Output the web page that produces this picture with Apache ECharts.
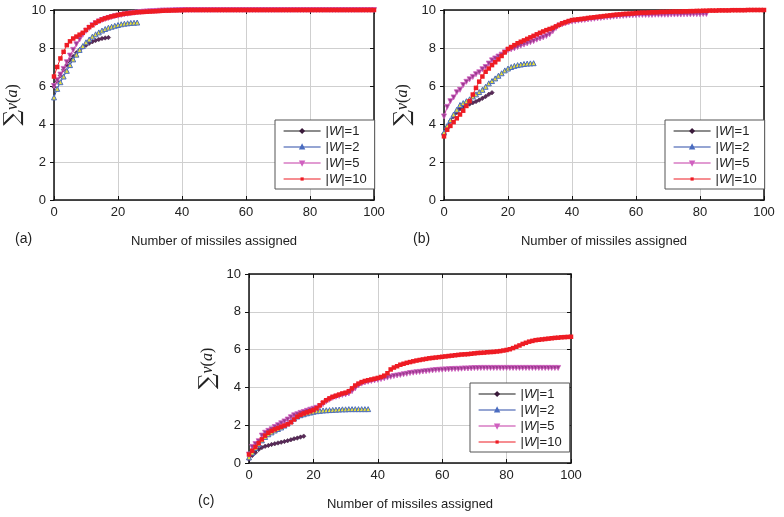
<!DOCTYPE html>
<html>
<head>
<meta charset="utf-8">
<script src="https://cdn.jsdelivr.net/npm/echarts@6/dist/echarts.min.js"></script>
<style>
  html, body { margin: 0; padding: 0; background: #fff; }
  #chart { width: 784px; height: 517px; }
</style>
</head>
<body>
<div id="chart"></div>
<script>
// Number of missiles assigned (x = 0, 1, 2, ...) vs. total value, per panel and |W|

const xTicks = [0, 20, 40, 60, 80, 100];
const yTicks = [0, 2, 4, 6, 8, 10];
const seriesNames = ['|W|=1', '|W|=2', '|W|=5', '|W|=10'];
const panelLabels = ['(a)', '(b)', '(c)'];
const xAxisTitle = 'Number of missiles assigned';

// Panel (a)
const aW1 = [5.95, 6.25, 6.55, 6.85, 7.1, 7.35, 7.55, 7.75, 7.9, 8.05, 8.15, 8.25, 8.33, 8.4, 8.45, 8.5, 8.53, 8.55];
const aW2 = [5.4, 5.85, 6.2, 6.5, 6.8, 7.1, 7.4, 7.65, 7.9, 8.1, 8.3, 8.45, 8.6, 8.72, 8.82, 8.92, 9.0, 9.07, 9.12, 9.17,
  9.21, 9.25, 9.28, 9.3, 9.32, 9.33, 9.34];
const aW5 = [6.0, 6.3, 6.6, 6.9, 7.25, 7.6, 7.9, 8.2, 8.45, 8.7, 8.9, 9.05, 9.2, 9.3, 9.4, 9.47, 9.53, 9.58, 9.63, 9.67,
  9.7, 9.74, 9.77, 9.8, 9.83, 9.85, 9.87, 9.89, 9.91, 9.92, 9.93, 9.94, 9.95, 9.96, 9.97, 9.97, 9.98, 9.98, 9.99, 9.99,
  10, 10, 10, 10, 10, 10, 10, 10, 10, 10, 10, 10, 10, 10, 10, 10, 10, 10, 10, 10,
  10, 10, 10, 10, 10, 10, 10, 10, 10, 10, 10, 10, 10, 10, 10, 10, 10, 10, 10, 10,
  10, 10, 10, 10, 10, 10, 10, 10, 10, 10, 10, 10, 10, 10, 10, 10, 10, 10, 10, 10, 10];
const aW10 = [6.5, 7.0, 7.45, 7.8, 8.15, 8.35, 8.5, 8.6, 8.7, 8.8, 8.95, 9.1, 9.2, 9.33, 9.42, 9.5, 9.56, 9.61, 9.66, 9.7,
  9.74, 9.77, 9.8, 9.82, 9.84, 9.86, 9.88, 9.89, 9.9, 9.91, 9.92, 9.93, 9.94, 9.95, 9.96, 9.97, 9.97, 9.98, 9.98, 9.99,
  9.99, 10, 10, 10, 10, 10, 10, 10, 10, 10, 10, 10, 10, 10, 10, 10, 10, 10, 10, 10,
  10, 10, 10, 10, 10, 10, 10, 10, 10, 10, 10, 10, 10, 10, 10, 10, 10, 10, 10, 10,
  10, 10, 10, 10, 10, 10, 10, 10, 10, 10, 10, 10, 10, 10, 10, 10, 10, 10, 10, 10, 10];

// Panel (b)
const bW1 = [3.5, 3.85, 4.15, 4.4, 4.6, 4.8, 4.9, 5.0, 5.05, 5.12, 5.18, 5.26, 5.35, 5.45, 5.56, 5.65];
const bW2 = [3.55, 3.9, 4.2, 4.5, 4.75, 5.0, 5.1, 5.2, 5.3, 5.45, 5.56, 5.68, 5.8, 5.96, 6.14, 6.26, 6.4, 6.54, 6.67, 6.82,
  6.92, 7.0, 7.06, 7.1, 7.13, 7.16, 7.18, 7.19, 7.2];
const bW5 = [4.4, 4.9, 5.2, 5.4, 5.67, 5.8, 6.05, 6.22, 6.35, 6.48, 6.62, 6.72, 6.88, 7.0, 7.18, 7.35, 7.45, 7.55, 7.65, 7.77,
  7.88, 7.93, 7.98, 8.05, 8.12, 8.18, 8.24, 8.3, 8.36, 8.44, 8.5, 8.56, 8.63, 8.72, 8.88, 9.05, 9.18, 9.25, 9.3, 9.35,
  9.39, 9.41, 9.44, 9.46, 9.48, 9.5, 9.52, 9.54, 9.56, 9.58, 9.6, 9.62, 9.63, 9.65, 9.66, 9.68, 9.69, 9.7, 9.71, 9.72,
  9.73, 9.74, 9.74, 9.74, 9.74, 9.74, 9.75, 9.75, 9.75, 9.75, 9.75, 9.76, 9.76, 9.76, 9.76, 9.77, 9.77, 9.77, 9.78, 9.78,
  9.78, 9.79, 9.79];
const bW10 = [3.35, 3.7, 3.9, 4.1, 4.3, 4.5, 4.7, 4.95, 5.2, 5.55, 5.9, 6.23, 6.5, 6.75, 6.92, 7.1, 7.25, 7.4, 7.58, 7.77,
  7.95, 8.05, 8.15, 8.25, 8.33, 8.4, 8.48, 8.56, 8.64, 8.72, 8.8, 8.87, 8.94, 9.0, 9.06, 9.14, 9.22, 9.3, 9.36, 9.42,
  9.47, 9.49, 9.51, 9.53, 9.55, 9.58, 9.6, 9.62, 9.64, 9.66, 9.68, 9.7, 9.72, 9.74, 9.76, 9.77, 9.79, 9.8, 9.81, 9.82,
  9.84, 9.85, 9.86, 9.86, 9.87, 9.88, 9.88, 9.89, 9.9, 9.9, 9.91, 9.91, 9.92, 9.92, 9.92, 9.93, 9.93, 9.94, 9.94, 9.95,
  9.95, 9.96, 9.96, 9.97, 9.97, 9.97, 9.98, 9.98, 9.98, 9.98, 9.99, 9.99, 9.99, 9.99, 9.99, 10, 10, 10, 10, 10, 10];

// Panel (c)
const cW1 = [0.2, 0.4, 0.55, 0.72, 0.82, 0.88, 0.93, 0.98, 1.02, 1.06, 1.1, 1.14, 1.18, 1.23, 1.28, 1.32, 1.37, 1.42];
const cW2 = [0.3, 0.55, 0.8, 1.0, 1.2, 1.38, 1.52, 1.62, 1.72, 1.8, 1.88, 1.98, 2.1, 2.22, 2.36, 2.46, 2.53, 2.58, 2.63, 2.67,
  2.71, 2.74, 2.76, 2.78, 2.79, 2.8, 2.81, 2.82, 2.83, 2.84, 2.84, 2.85, 2.85, 2.85, 2.85, 2.85, 2.85, 2.85];
const cW5 = [0.45, 0.85, 1.0, 1.15, 1.45, 1.6, 1.7, 1.78, 1.9, 2.0, 2.1, 2.2, 2.3, 2.42, 2.52, 2.58, 2.65, 2.7, 2.76, 2.82,
  2.87, 2.92, 3.0, 3.12, 3.25, 3.35, 3.45, 3.5, 3.55, 3.6, 3.63, 3.68, 3.8, 3.95, 4.1, 4.2, 4.26, 4.3, 4.34, 4.37,
  4.4, 4.44, 4.48, 4.52, 4.56, 4.6, 4.63, 4.66, 4.69, 4.72, 4.76, 4.78, 4.8, 4.82, 4.84, 4.86, 4.88, 4.9, 4.92, 4.93,
  4.94, 4.95, 4.96, 4.97, 4.98, 4.98, 4.99, 5.0, 5.0, 5.01, 5.02, 5.02, 5.03, 5.03, 5.03, 5.03, 5.03, 5.03, 5.03, 5.03,
  5.03, 5.03, 5.03, 5.03, 5.03, 5.03, 5.03, 5.03, 5.03, 5.03, 5.03, 5.03, 5.03, 5.03, 5.03, 5.03, 5.03];
const cW10 = [0.45, 0.65, 0.85, 1.05, 1.25, 1.45, 1.6, 1.7, 1.78, 1.85, 1.92, 1.98, 2.05, 2.15, 2.3, 2.45, 2.55, 2.62, 2.68, 2.74,
  2.8, 2.9, 3.05, 3.2, 3.32, 3.42, 3.5, 3.56, 3.62, 3.68, 3.72, 3.8, 3.95, 4.1, 4.2, 4.28, 4.34, 4.38, 4.42, 4.46,
  4.5, 4.55, 4.62, 4.75, 4.95, 5.05, 5.12, 5.2, 5.25, 5.3, 5.34, 5.38, 5.42, 5.45, 5.48, 5.51, 5.54, 5.56, 5.58, 5.6,
  5.62, 5.64, 5.66, 5.68, 5.7, 5.72, 5.74, 5.75, 5.76, 5.78, 5.8, 5.82, 5.83, 5.84, 5.86, 5.87, 5.88, 5.9, 5.92, 5.95,
  5.98, 6.02, 6.08, 6.15, 6.22, 6.3, 6.36, 6.42, 6.46, 6.5, 6.52, 6.54, 6.56, 6.58, 6.6, 6.62, 6.63, 6.65, 6.66, 6.67, 6.68];

const panelData = [
  [aW1, aW2, aW5, aW10],
  [bW1, bW2, bW5, bW10],
  [cW1, cW2, cW5, cW10]
];

// ---- layout & styling ----
const FONT = '"Liberation Sans", Arial, sans-serif';
const panels = [
  { left: 54,  top: 10,  width: 320, height: 190, legend: { left: 275, top: 120 }, tag: { x: 22,  y: 241 } },
  { left: 444, top: 10,  width: 320, height: 190, legend: { left: 665, top: 120 }, tag: { x: 420, y: 241 } },
  { left: 249, top: 274, width: 322, height: 189, legend: { left: 470, top: 383 }, tag: { x: 205, y: 503 } }
];
const styles = [
  { line: '#1a1a1a', symbol: 'diamond',  size: 4.5, rotate: 0,   fill: '#5a2a5a', border: '#3a1a3a', bw: 0.5 },
  { line: '#2c4ca8', symbol: 'triangle', size: 5,   rotate: 0,   fill: '#e6de3a', border: '#4a6cc0', bw: 1 },
  { line: '#c43aa6', symbol: 'triangle', size: 5,   rotate: 180, fill: '#9a3a8e', border: '#d060c0', bw: 0.8 },
  { line: '#ee1c24', symbol: 'rect',     size: 4.5, rotate: 0,   fill: '#ee1c24', border: '#ee1c24', bw: 0 }
];

const axisLineStyle = { color: '#111', width: 1.5 };
const grids = [], xAxes = [], yAxes = [], legends = [], series = [], graphics = [];

panels.forEach((p, gi) => {
  grids.push({ left: p.left, top: p.top, width: p.width, height: p.height, containLabel: false });
  // bottom x axis
  xAxes.push({
    type: 'value', gridIndex: gi, position: 'bottom', min: xTicks[0], max: xTicks[xTicks.length - 1],
    interval: xTicks[1] - xTicks[0],
    axisLine: { show: true, onZero: false, lineStyle: axisLineStyle },
    axisTick: { show: true, inside: true, length: 4, lineStyle: { color: '#111', width: 1 } },
    axisLabel: { show: true, margin: 6, color: '#222', fontFamily: FONT, fontSize: 13 },
    splitLine: { show: true, lineStyle: { color: '#cfcfcf', width: 1 } },
    name: xAxisTitle, nameLocation: 'middle', nameGap: 35,
    nameTextStyle: { color: '#222', fontFamily: FONT, fontSize: 13 }
  });
  // top frame
  xAxes.push({
    type: 'value', gridIndex: gi, position: 'top', min: xTicks[0], max: xTicks[xTicks.length - 1],
    interval: xTicks[1] - xTicks[0],
    axisLine: { show: true, onZero: false, lineStyle: axisLineStyle },
    axisTick: { show: true, inside: true, length: 4, lineStyle: { color: '#111', width: 1 } },
    axisLabel: { show: false }, splitLine: { show: false }
  });
  // left y axis
  yAxes.push({
    type: 'value', gridIndex: gi, position: 'left', min: yTicks[0], max: yTicks[yTicks.length - 1],
    interval: yTicks[1] - yTicks[0],
    axisLine: { show: true, onZero: false, lineStyle: axisLineStyle },
    axisTick: { show: true, inside: false, length: 4, lineStyle: { color: '#111', width: 1 } },
    axisLabel: { show: true, margin: 8, color: '#222', fontFamily: FONT, fontSize: 13 },
    splitLine: { show: true, lineStyle: { color: '#cfcfcf', width: 1 } },
    name: '{s|∑}{m|v}{p|(}{m|a}{p|)}', nameLocation: 'middle', nameRotate: 90, nameGap: 30,
    nameTextStyle: {
      rich: {
        s: { fontFamily: '"DejaVu Serif", serif', fontSize: 22, color: '#222' },
        m: { fontFamily: '"Liberation Serif", serif', fontStyle: 'italic', fontSize: 16, color: '#222' },
        p: { fontFamily: '"Liberation Serif", serif', fontSize: 16, color: '#222' }
      }
    }
  });
  // right frame
  yAxes.push({
    type: 'value', gridIndex: gi, position: 'right', min: yTicks[0], max: yTicks[yTicks.length - 1],
    interval: yTicks[1] - yTicks[0],
    axisLine: { show: true, onZero: false, lineStyle: axisLineStyle },
    axisTick: { show: true, inside: true, length: 4, lineStyle: { color: '#111', width: 1 } },
    axisLabel: { show: false }, splitLine: { show: false }
  });

  panelData[gi].forEach((vals, si) => {
    const st = styles[si];
    series.push({
      type: 'line', name: seriesNames[si],
      xAxisIndex: gi * 2, yAxisIndex: gi * 2,
      data: vals.map((v, i) => [i, v]),
      symbol: st.symbol, symbolSize: st.size, symbolRotate: st.rotate,
      showSymbol: true, showAllSymbol: true, animation: false,
      lineStyle: { color: st.line, width: 1 },
      itemStyle: { color: st.fill, borderColor: st.border, borderWidth: st.bw },
      emphasis: { disabled: true },
      z: 2 + si
    });
  });

  legends.push({
    orient: 'vertical', left: p.legend.left, top: p.legend.top,
    data: seriesNames,
    backgroundColor: '#fff', borderColor: '#555', borderWidth: 1,
    padding: [4, 8, 3, 8], itemGap: 2, itemWidth: 37, itemHeight: 4,
    selectedMode: false,
    lineStyle: { width: 1.2 },
    formatter: n => n.replace('W', '{i|W}'),
    textStyle: {
      color: '#222', fontFamily: FONT, fontSize: 13, lineHeight: 14,
      rich: { i: { fontFamily: FONT, fontStyle: 'italic', fontSize: 13, lineHeight: 14, color: '#222' } }
    }
  });

  graphics.push({
    type: 'text', left: p.tag.x - 7, top: p.tag.y - 9,
    style: { text: panelLabels[gi], fill: '#222', font: '14px ' + FONT }
  });
});

const chart = echarts.init(document.getElementById('chart'), null, { renderer: 'canvas' });
chart.setOption({
  backgroundColor: '#fff',
  animation: false,
  grid: grids, xAxis: xAxes, yAxis: yAxes,
  legend: legends, series: series, graphic: graphics,
  tooltip: { show: false }
});
</script>
</body>
</html>
